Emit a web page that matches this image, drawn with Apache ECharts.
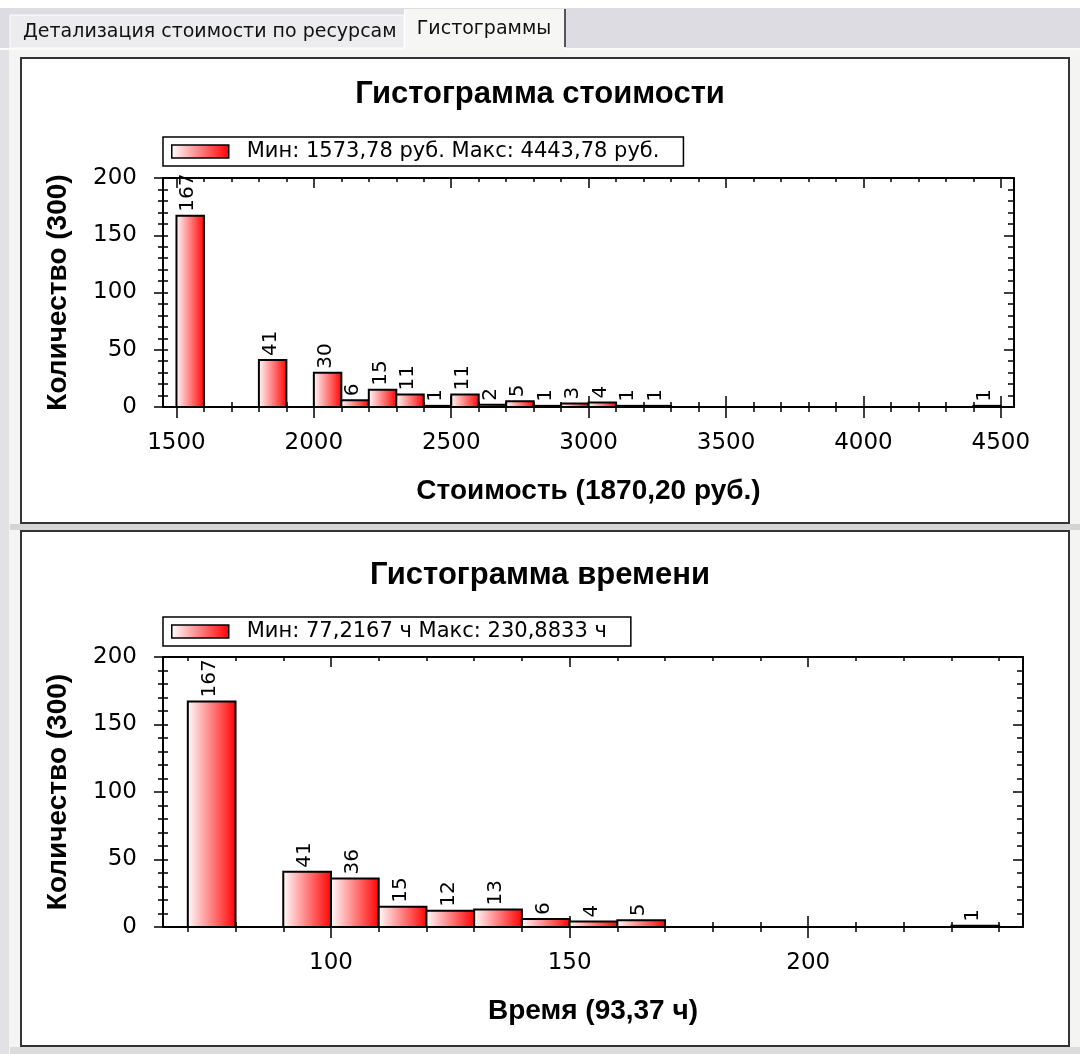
<!DOCTYPE html>
<html>
<head>
<meta charset="utf-8">
<script src="https://cdn.jsdelivr.net/npm/echarts@6/dist/echarts.min.js"></script>
<style>
html,body{margin:0;padding:0;background:#f4f4f2;}
#chart{width:1080px;height:1054px;}
</style>
</head>
<body>
<div id="chart"></div>
<script>
// ---- Data: cost histogram (bin start, count) ----
const costBinStart = [1500, 1800, 2000, 2100, 2200, 2300, 2400, 2500, 2600, 2700, 2800, 2900, 3000, 3100, 3200, 4400];
const costCounts   = [167, 41, 30, 6, 15, 11, 1, 11, 2, 5, 1, 3, 4, 1, 1, 1];
const costBinWidth = 100;
const costTicks    = [1500, 2000, 2500, 3000, 3500, 4000, 4500];
const costMinorStep = 100;
const costLegend   = 'Мин: 1573,78 руб. Макс: 4443,78 руб.';
const costTitle    = 'Гистограмма стоимости';
const costAxisName = 'Стоимость (1870,20 руб.)';

// ---- Data: time histogram ----
const timeBinStart = [70, 90, 100, 110, 120, 130, 140, 150, 160, 230];
const timeCounts   = [167, 41, 36, 15, 12, 13, 6, 4, 5, 1];
const timeBinWidth = 10;
const timeTicks    = [100, 150, 200];
const timeMinorStep = 10;
const timeLegend   = 'Мин: 77,2167 ч Макс: 230,8833 ч';
const timeTitle    = 'Гистограмма времени';
const timeAxisName = 'Время (93,37 ч)';

// ---- Count axis ----
const countTicks = [0, 50, 100, 150, 200];
const countMinorStep = 10;
const countAxisName = 'Количество (300)';

const tabLabels = ['Детализация стоимости по ресурсам', 'Гистограммы'];

const FONT = '"Liberation Sans", Arial, sans-serif';
const NUMFONT = '"DejaVu Sans", sans-serif';

function minorValues(lo, hi, step) {
  const out = [];
  for (let v = Math.ceil(lo / step) * step; v <= hi + 1e-9; v += step) out.push(Math.round(v * 1000) / 1000);
  return out;
}

const barGradient = new echarts.graphic.LinearGradient(0, 0, 1, 0, [
  { offset: 0, color: '#ffffff' },
  { offset: 1, color: '#ff0000' }
]);

function plain(v) { return String(v); }

function tickAxis(gi, pos, min, max, values, len, inside, lineShow) {
  return {
    type: 'value', gridIndex: gi, position: pos, min: min, max: max,
    axisLine: { show: !!lineShow, onZero: false, lineStyle: { color: '#000', width: 2 } },
    axisTick: { show: true, inside: inside, length: len, customValues: values, lineStyle: { color: '#000', width: 1.5 } },
    axisLabel: { show: false },
    splitLine: { show: false }
  };
}

function buildX(gi, min, max, majors, minors, name) {
  const main = tickAxis(gi, 'bottom', min, max, majors, 11, false, true);
  main.axisLabel = { show: true, customValues: majors, formatter: plain, margin: 25, color: '#000', fontSize: 23, fontFamily: NUMFONT };
  main.name = name;
  main.nameLocation = 'middle';
  main.nameGap = 70;
  main.nameTextStyle = { color: '#000', fontSize: 28, fontWeight: 'bold', fontFamily: FONT };
  return [
    main,
    tickAxis(gi, 'bottom', min, max, minors, 5, false, false),
    tickAxis(gi, 'bottom', min, max, majors, 11, true, false),
    tickAxis(gi, 'bottom', min, max, minors, 5, true, false),
    tickAxis(gi, 'top', min, max, majors, 10, true, true),
    tickAxis(gi, 'top', min, max, minors, 4, true, false)
  ];
}

function buildY(gi, majors, minors, name) {
  const min = countTicks[0], max = countTicks[countTicks.length - 1];
  const main = tickAxis(gi, 'left', min, max, majors, 9, false, true);
  main.axisLabel = { show: true, customValues: majors, formatter: plain, margin: 26, color: '#000', fontSize: 23, fontFamily: NUMFONT };
  main.name = name;
  main.nameLocation = 'middle';
  main.nameGap = 91;
  main.nameTextStyle = { color: '#000', fontSize: 28, fontWeight: 'bold', fontFamily: FONT };
  return [
    main,
    tickAxis(gi, 'left', min, max, minors, 5, false, false),
    tickAxis(gi, 'left', min, max, minors, 5, true, false),
    tickAxis(gi, 'right', min, max, majors, 10, true, true),
    tickAxis(gi, 'right', min, max, minors, 6, true, false)
  ];
}

function renderHist(binWidth) {
  return function (params, api) {
    const x0 = api.value(0);
    const n = api.value(1);
    const p0 = api.coord([x0, 0]);
    const p1 = api.coord([x0 + binWidth, n]);
    return {
      type: 'group',
      children: [
        {
          type: 'rect',
          shape: { x: p0[0], y: p1[1], width: p1[0] - p0[0], height: p0[1] - p1[1] },
          style: { fill: api.visual('color'), stroke: '#000', lineWidth: 2 }
        },
        {
          type: 'text',
          x: (p0[0] + p1[0]) / 2 - 2,
          y: p1[1] - 4,
          rotation: Math.PI / 2,
          style: { text: String(n), align: 'left', verticalAlign: 'middle', fill: '#000', font: '20px ' + NUMFONT }
        }
      ]
    };
  };
}

const costMinors = minorValues(1451, 4548, costMinorStep);
const timeMinors = minorValues(64.8, 245, timeMinorStep);
const countMinors = minorValues(0, 200, countMinorStep);

const xAxes = buildX(0, 1451, 4548, costTicks, costMinors, costAxisName)
  .concat(buildX(1, 64.8, 245, timeTicks, timeMinors, timeAxisName));
const yAxes = buildY(0, countTicks, countMinors, countAxisName)
  .concat(buildY(1, countTicks, countMinors, countAxisName));

const legendCommon = {
  orient: 'horizontal',
  icon: 'rect',
  itemWidth: 57,
  itemHeight: 13,
  itemStyle: { borderColor: '#000', borderWidth: 1.5 },
  backgroundColor: '#fff',
  borderColor: '#000',
  borderWidth: 1.5,
  borderRadius: 0,
  padding: [4, 24, 4, 8],
  textStyle: { color: '#000', fontSize: 21, fontFamily: NUMFONT, padding: [0, 0, 0, 13] },
  selectedMode: false
};

const option = {
  animation: false,
  backgroundColor: '#f4f4f2',
  graphic: [
    { type: 'rect', z: -20, silent: true, shape: { x: 0, y: 0, width: 1080, height: 8 }, style: { fill: '#ffffff' } },
    { type: 'rect', z: -20, silent: true, shape: { x: 0, y: 8, width: 1080, height: 40 }, style: { fill: '#dcdce2' } },
    { type: 'rect', z: -20, silent: true, shape: { x: 0, y: 48, width: 1080, height: 2 }, style: { fill: '#fbfbf9' } },
    { type: 'rect', z: -20, silent: true, shape: { x: 0, y: 50, width: 9, height: 1004 }, style: { fill: '#e2e2e6' } },
    { type: 'rect', z: -19, silent: true, shape: { x: 10, y: 15, width: 394, height: 33 }, style: { fill: '#ececee', stroke: '#fdfdfd', lineWidth: 1 } },
    { type: 'text', z: -18, silent: true, x: 23, y: 32, style: { text: tabLabels[0], fill: '#111', font: '19px "DejaVu Sans", sans-serif', align: 'left', verticalAlign: 'middle' } },
    { type: 'rect', z: -19, silent: true, shape: { x: 404, y: 9, width: 161, height: 41 }, style: { fill: '#f6f6f4' } },
    { type: 'line', z: -18, silent: true, shape: { x1: 404.5, y1: 9, x2: 404.5, y2: 48 }, style: { stroke: '#ffffff', lineWidth: 1 } },
    { type: 'line', z: -18, silent: true, shape: { x1: 565, y1: 9, x2: 565, y2: 47 }, style: { stroke: '#555', lineWidth: 2 } },
    { type: 'text', z: -18, silent: true, x: 484, y: 29, style: { text: tabLabels[1], fill: '#111', font: '19px "DejaVu Sans", sans-serif', align: 'center', verticalAlign: 'middle' } },
    { type: 'rect', z: -19, silent: true, shape: { x: 10, y: 524, width: 1070, height: 6 }, style: { fill: '#d4d4d4' } },
    { type: 'rect', z: -19, silent: true, shape: { x: 10, y: 1047, width: 1070, height: 7 }, style: { fill: '#dcdcdc' } },
    { type: 'rect', z: -15, silent: true, shape: { x: 21, y: 58, width: 1048, height: 465 }, style: { fill: '#ffffff', stroke: '#333', lineWidth: 2 } },
    { type: 'rect', z: -15, silent: true, shape: { x: 21, y: 531, width: 1048, height: 515 }, style: { fill: '#ffffff', stroke: '#333', lineWidth: 2 } }
  ],
  title: [
    { text: costTitle, left: 'center', top: 74, textStyle: { color: '#000', fontSize: 31, fontWeight: 'bold', fontFamily: FONT } },
    { text: timeTitle, left: 'center', top: 555, textStyle: { color: '#000', fontSize: 31, fontWeight: 'bold', fontFamily: FONT } }
  ],
  legend: [
    Object.assign({ left: 163, top: 137, data: [costLegend] }, legendCommon),
    Object.assign({ left: 163, top: 617, data: [timeLegend] }, legendCommon)
  ],
  grid: [
    { left: 163, top: 178, width: 851, height: 229, containLabel: false },
    { left: 163, top: 657, width: 860, height: 270, containLabel: false }
  ],
  xAxis: xAxes,
  yAxis: yAxes,
  series: [
    {
      type: 'custom', name: costLegend, xAxisIndex: 0, yAxisIndex: 0, clip: false,
      itemStyle: { color: barGradient },
      renderItem: renderHist(costBinWidth),
      encode: { x: 0, y: 1 },
      data: costBinStart.map((s, i) => [s, costCounts[i]])
    },
    {
      type: 'custom', name: timeLegend, xAxisIndex: 6, yAxisIndex: 5, clip: false,
      itemStyle: { color: barGradient },
      renderItem: renderHist(timeBinWidth),
      encode: { x: 0, y: 1 },
      data: timeBinStart.map((s, i) => [s, timeCounts[i]])
    }
  ]
};

const chart = echarts.init(document.getElementById('chart'), null, { renderer: 'canvas' });
chart.setOption(option);
</script>
</body>
</html>
